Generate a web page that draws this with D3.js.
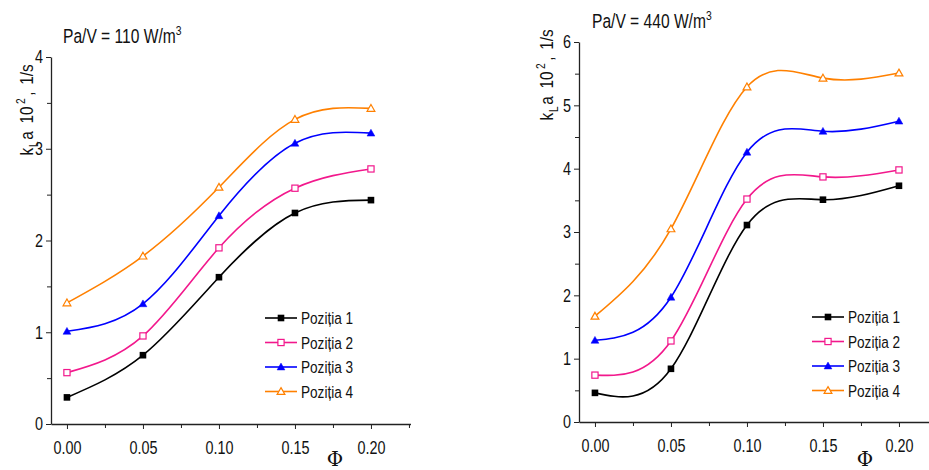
<!DOCTYPE html>
<html><head><meta charset="utf-8">
<script src="https://cdn.jsdelivr.net/npm/d3@7"></script>
<style>
body{margin:0;background:#fff;}
text{font-family:"Liberation Sans",Arial,sans-serif;fill:#111;}
</style></head><body>
<svg id="c" width="929" height="470"></svg>
<script>
const phi = [0.00, 0.05, 0.10, 0.15, 0.20];
const seriesNames = ["Poziția 1", "Poziția 2", "Poziția 3", "Poziția 4"];
const colors = ["#000000", "#f2188c", "#0000ff", "#ff8000"];
const markers = ["squareFilled", "squareOpen", "triFilled", "triOpen"];
const xTicks = [0.00, 0.05, 0.10, 0.15, 0.20];
// Pa/V = 110 W/m3
const left1 = [0.29, 0.75, 1.60, 2.30, 2.44];
const left2 = [0.56, 0.96, 1.92, 2.57, 2.78];
const left3 = [1.01, 1.31, 2.27, 3.06, 3.17];
const left4 = [1.32, 1.83, 2.58, 3.32, 3.44];
const leftYTicks = [0, 1, 2, 3, 4];
// Pa/V = 440 W/m3
const right1 = [0.46, 0.84, 3.11, 3.51, 3.73];
const right2 = [0.74, 1.28, 3.52, 3.87, 3.98];
const right3 = [1.29, 1.97, 4.26, 4.59, 4.75];
const right4 = [1.67, 3.05, 5.29, 5.43, 5.51];
const rightYTicks = [0, 1, 2, 3, 4, 5, 6];

const svg = d3.select("#c");
const NARROW = 0.8;

function drawPanel(o) {
  const g = svg.append("g");
  const x = d3.scaleLinear().domain([-0.0105, 0.226]).range([o.x0, o.x0 + 0.2365 * 1520]);
  const y = d3.scaleLinear().domain([0, o.ymax]).range([o.yBottom, o.yTop]);
  const xAx = g.append("g").attr("transform", `translate(0,${o.yBottom})`)
    .call(d3.axisBottom(x).tickValues(xTicks).tickFormat(d3.format(".2f")).tickSize(5).tickSizeOuter(0));
  const xMinor = g.append("g").attr("transform", `translate(0,${o.yBottom})`)
    .call(d3.axisBottom(x).tickValues([0.025, 0.075, 0.125, 0.175, 0.225]).tickFormat("").tickSize(4).tickSizeOuter(0));
  xMinor.select(".domain").remove();
  const yAx = g.append("g").attr("transform", `translate(${o.x0},0)`)
    .call(d3.axisLeft(y).tickValues(o.yTicks).tickFormat(d3.format("d")).tickSize(5).tickSizeOuter(0));
  const yMinor = g.append("g").attr("transform", `translate(${o.x0},0)`)
    .call(d3.axisLeft(y).tickValues(o.yTicks.slice(0, -1).map(v => v + 0.5)).tickFormat("").tickSize(4).tickSizeOuter(0));
  yMinor.select(".domain").remove();
  g.selectAll(".domain").attr("stroke", "#222").attr("stroke-width", 1.3);
  g.selectAll(".tick line").attr("stroke", "#222").attr("stroke-width", 1);
  xAx.selectAll(".tick text").attr("font-size", 18).attr("dy", "1.2em")
    .attr("transform", `scale(${NARROW},1)`);
  yAx.selectAll(".tick text").attr("font-size", 18).attr("x", -10)
    .attr("transform", `scale(${NARROW},1)`);
  g.selectAll(".tick text").style("font-family", '"Liberation Sans",Arial,sans-serif').attr("fill", "#111");

  const line = d3.line().x((d, i) => x(phi[i])).y(d => y(d)).curve(d3.curveNatural);
  const plot = g.append("g");
  o.data.forEach((arr, si) => {
    plot.append("path").attr("d", line(arr)).attr("fill", "none")
      .attr("stroke", colors[si]).attr("stroke-width", 1.6);
  });
  o.data.forEach((arr, si) => {
    arr.forEach((v, i) => drawMarker(plot, x(phi[i]), y(v), si));
  });

  // title
  const t = g.append("text").attr("transform", `translate(${o.titleX},${o.titleY}) scale(${NARROW},1)`)
    .attr("font-size", 19.5);
  t.append("tspan").text(o.title);
  t.append("tspan").attr("font-size", 13).attr("dy", -8).text("3");

  // y label
  const yl = g.append("text").attr("transform", `translate(${o.ylX},${o.ylY}) rotate(-90) scale(0.85,1)`)
    .attr("text-anchor", "middle").attr("font-size", 18);
  yl.append("tspan").text("k");
  yl.append("tspan").attr("font-size", 12).attr("dy", 5).attr("dx", 1).text("L");
  yl.append("tspan").attr("dy", -5).attr("dx", 2).text("a");
  yl.append("tspan").attr("dx", 9).text("10");
  yl.append("tspan").attr("font-size", 12).attr("dy", -8).attr("dx", 3).text("2");
  yl.append("tspan").attr("dy", 8).attr("dx", 3).text(",");
  yl.append("tspan").attr("dx", 8).text("1/s");

  // x label
  g.append("text").attr("x", o.phiX).attr("y", 466).attr("font-size", 20)
    .style("font-family", '"DejaVu Serif","Liberation Serif",serif').attr("text-anchor", "middle").text("Φ");

  // legend
  const lg = g.append("g");
  seriesNames.forEach((n, si) => {
    const yy = o.legY + si * 24.5;
    lg.append("line").attr("x1", o.legX).attr("x2", o.legX + 32).attr("y1", yy).attr("y2", yy)
      .attr("stroke", colors[si]).attr("stroke-width", 1.6);
    drawMarker(lg, o.legX + 16, yy, si);
    lg.append("text").attr("transform", `translate(${o.legX + 36},${yy + 6}) scale(${NARROW},1)`)
      .attr("font-size", 17).text(n);
  });
}

function drawMarker(sel, cx, cy, si) {
  const c = colors[si], m = markers[si];
  if (m === "squareFilled") {
    sel.append("rect").attr("x", cx - 3.3).attr("y", cy - 3.3).attr("width", 6.6).attr("height", 6.6).attr("fill", c);
  } else if (m === "squareOpen") {
    sel.append("rect").attr("x", cx - 3.1).attr("y", cy - 3.1).attr("width", 6.2).attr("height", 6.2)
      .attr("fill", "#fff").attr("stroke", c).attr("stroke-width", 1.2);
  } else {
    const s = 3.9;
    const p = `M${cx},${cy - s}L${cx + s},${cy + s * 0.75}L${cx - s},${cy + s * 0.75}Z`;
    sel.append("path").attr("d", p).attr("fill", m === "triFilled" ? c : "#fff")
      .attr("stroke", c).attr("stroke-width", m === "triFilled" ? 0.5 : 1.2);
  }
}

drawPanel({x0: 51, yTop: 57, yBottom: 424, ymax: 4, yTicks: leftYTicks,
  data: [left1, left2, left3, left4], title: "Pa/V = 110 W/m", titleX: 63, titleY: 43,
  ylX: 33, ylY: 110, phiX: 335, legX: 265, legY: 318});
drawPanel({x0: 579, yTop: 42, yBottom: 422, ymax: 6, yTicks: rightYTicks,
  data: [right1, right2, right3, right4], title: "Pa/V = 440 W/m", titleX: 592, titleY: 28,
  ylX: 553, ylY: 75, phiX: 865, legX: 812, legY: 317});
</script>
</body></html>
